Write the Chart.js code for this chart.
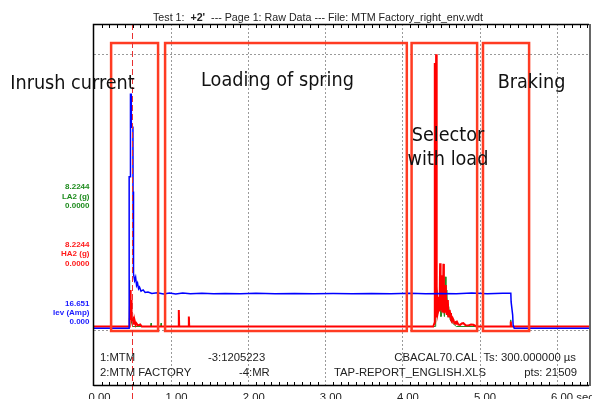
<!DOCTYPE html>
<html>
<head>
<meta charset="utf-8">
<script src="https://cdn.jsdelivr.net/npm/chart.js@4/dist/chart.umd.min.js"></script>
<style>
  body { margin: 0; background: #fff; }
  canvas { display: block; }
</style>
</head>
<body>
<canvas id="rawChart" width="592" height="399"></canvas>
<script>
// time axis (sec)
const xTicks = [0, 1, 2, 3, 4, 5, 6];
const xTickLabels = ['0.00', '1.00', '2.00', '3.00', '4.00', '5.00', '6.00 sec'];

// channel labels shown left of the plot: [top value, name, bottom value]
const channelLabels = [
  ['8.2244', 'LA2 (g)', '0.0000'],
  ['8.2244', 'HA2 (g)', '0.0000'],
  ['16.651', 'Iev (Amp)', '0.000']
];

// Iev (Amp)
const ievTime = [0, 0.455, 0.456, 0.472, 0.473, 0.483, 0.484, 0.505, 0.506, 0.512,
  0.513, 0.527, 0.54, 0.552, 0.565, 0.578, 0.59, 0.61, 0.637, 0.663,
  0.70, 0.75, 0.82, 0.90, 0.98, 1.06, 1.15, 1.25, 1.40, 1.55,
  1.70, 1.90, 2.10, 2.35, 2.60, 2.85, 3.10, 3.35, 3.60, 3.85,
  4.10, 4.30, 4.50, 4.70, 4.90, 5.10, 5.30, 5.406, 5.41, 5.43,
  5.436, 5.45, 6.42];
const iev = [0, 0, 9.2, 9.2, 14.2, 14.2, 12.2, 12.2, 8.3, 8.3,
  3.3, 2.9, 3.1, 2.6, 2.75, 2.4, 2.5, 2.26, 2.33, 2.17,
  2.2, 2.11, 2.16, 2.08, 2.14, 2.09, 2.15, 2.1, 2.13, 2.09,
  2.12, 2.1, 2.13, 2.1, 2.12, 2.1, 2.11, 2.1, 2.12, 2.1,
  2.13, 2.09, 2.12, 2.1, 2.14, 2.09, 2.13, 2.13, 1.6, 0.8,
  0.2, 0, 0];

// HA2 (g)
const ha2Time = [0, 0.455, 0.46, 0.465, 0.47, 0.475, 0.48, 0.485, 0.49, 0.50,
  0.51, 0.52, 0.53, 0.54, 0.55, 0.57, 0.60, 0.62, 1.095, 1.10,
  1.105, 1.225, 1.23, 1.235, 4.40, 4.415, 4.42, 4.425, 4.432, 4.437,
  4.442, 4.447, 4.450, 4.458, 4.467, 4.475, 4.482, 4.489, 4.495, 4.502,
  4.511, 4.517, 4.524, 4.532, 4.538, 4.545, 4.554, 4.563, 4.57, 4.576,
  4.583, 4.589, 4.597, 4.606, 4.612, 4.619, 4.63, 4.641, 4.652, 4.662,
  4.673, 4.684, 4.695, 4.706, 4.725, 4.749, 4.77, 4.79, 4.82, 4.856,
  4.89, 4.92, 4.96, 5.40, 5.405, 5.41, 6.42];
const ha2 = [0, 0, 0.25, 0.1, 1.1, 0.3, 0.8, 0.2, 0.25, 0.12,
  0.2, 0.08, 0.15, 0.05, 0.1, 0.03, 0.06, 0, 0, 0.5,
  0, 0, 0.3, 0, 0, 0.1, 7.95, 0.3, 1.0, 8.22,
  0.6, 1.2, 0.9, 0.4, 0.5, 0.9, 0.45, 1.91, 0.5, 0.6,
  1.55, 0.45, 0.5, 1.89, 0.6, 0.4, 0.9, 1.25, 0.5, 0.35,
  0.7, 0.8, 0.3, 0.3, 0.5, 0.41, 0.2, 0.15, 0.25, 0.2,
  0.1, 0.08, 0.14, 0.15, 0.06, 0.05, 0.09, 0.1, 0.04, 0.03,
  0.06, 0.05, 0, 0, 0.15, 0, 0];

// LA2 (g)
const la2Time = [0, 0.456, 0.458, 0.462, 0.466, 0.47, 0.476, 0.482, 0.49, 0.50,
  0.735, 0.74, 0.745, 0.865, 0.87, 0.875, 1.225, 1.23, 1.235, 4.425,
  4.43, 4.433, 4.437, 4.445, 4.46, 4.49, 4.50, 4.53, 4.545, 4.554,
  4.565, 4.576, 4.59, 4.6, 4.62, 4.65, 4.7, 5.40, 5.405, 5.41,
  6.42];
const la2 = [0, 0, 1.4, 1.0, 0.3, 0.5, 0.2, 0.35, 0.1, 0,
  0, 0.1, 0, 0, 0.1, 0, 0, 0.26, 0, 0,
  0.6, 1.77, 0.9, 1.1, 0.4, 0.8, 0.3, 0.6, 0.3, 1.5,
  0.5, 1.1, 0.3, 0.6, 0.2, 0.1, 0, 0, 0.2, 0,
  0];

// phase boxes (sec), vertical extent in HA2 units
const phaseNames = ['Inrush current', 'Loading of spring', 'Selector', 'Braking'];
const boxStart = [0.222, 0.922, 4.119, 5.045];
const boxEnd = [0.831, 4.057, 4.969, 5.643];
const boxTop = 8.556, boxBottom = -0.136;
const cursorTime = 0.494;
const gridLevels = [8.2244, -0.106];

const toPoints = (ts, vs) => ts.map((t, i) => ({ x: t, y: vs[i] }));

function fitText(ctx, text, family, width) {
  ctx.font = '20px ' + family;
  return 20 * width / ctx.measureText(text).width;
}

const overlay = {
  id: 'overlay',
  beforeDatasetsDraw(chart) {
    const { ctx, chartArea: a, scales: { x, yH } } = chart;
    ctx.save();
    ctx.strokeStyle = '#9a9a9a';
    ctx.lineWidth = 1;
    ctx.setLineDash([2, 2]);
    xTicks.slice(1).forEach(t => {
      const px = Math.round(x.getPixelForValue(t)) + 0.5;
      ctx.beginPath(); ctx.moveTo(px, a.top); ctx.lineTo(px, a.bottom); ctx.stroke();
    });
    gridLevels.forEach(v => {
      const py = Math.round(yH.getPixelForValue(v)) + 0.5;
      ctx.beginPath(); ctx.moveTo(a.left, py); ctx.lineTo(a.right, py); ctx.stroke();
    });
    ctx.restore();
  },
  afterDatasetsDraw(chart) {
    const { ctx, chartArea: a, scales: { x, yH } } = chart;
    ctx.save();

    // phase boxes
    ctx.strokeStyle = '#ff3b22';
    ctx.lineWidth = 2.5;
    boxStart.forEach((s, i) => {
      const x1 = x.getPixelForValue(s), x2 = x.getPixelForValue(boxEnd[i]);
      const y1 = yH.getPixelForValue(boxTop), y2 = yH.getPixelForValue(boxBottom);
      ctx.strokeRect(x1, y1, x2 - x1, y2 - y1);
    });

    // cursor
    const cx = Math.round(x.getPixelForValue(cursorTime)) + 0.5;
    ctx.strokeStyle = '#e83030';
    ctx.lineWidth = 1;
    ctx.setLineDash([6, 3]);
    ctx.beginPath(); ctx.moveTo(cx, a.top); ctx.lineTo(cx, chart.height); ctx.stroke();
    ctx.setLineDash([]);

    // frame
    ctx.strokeStyle = '#000';
    ctx.lineWidth = 1.5;
    ctx.beginPath();
    ctx.moveTo(a.left - 0.5, a.bottom); ctx.lineTo(a.left - 0.5, a.top + 0.5);
    ctx.lineTo(a.right, a.top + 0.5);
    ctx.moveTo(a.left - 0.5, a.bottom - 0.5); ctx.lineTo(a.right, a.bottom - 0.5);
    ctx.stroke();
    ctx.strokeStyle = '#666';
    ctx.lineWidth = 2;
    ctx.beginPath(); ctx.moveTo(a.right + 1, a.top); ctx.lineTo(a.right + 1, a.bottom); ctx.stroke();

    // minor ticks every 0.1 sec
    ctx.strokeStyle = '#000';
    ctx.lineWidth = 1;
    for (let k = 1; k < 65; k++) {
      if (k % 10 === 0) continue;
      const px = Math.round(x.getPixelForValue(k / 10)) + 0.5;
      ctx.beginPath();
      ctx.moveTo(px, a.top); ctx.lineTo(px, a.top + 4);
      ctx.moveTo(px, a.bottom); ctx.lineTo(px, a.bottom - 4);
      ctx.stroke();
    }

    // x tick labels
    ctx.fillStyle = '#222';
    ctx.font = '11.3px "Liberation Sans", Arial, sans-serif';
    ctx.textBaseline = 'top';
    ctx.textAlign = 'left';
    xTicks.forEach((t, i) => {
      ctx.fillText(xTickLabels[i], x.getPixelForValue(t) - 5.5, a.bottom + 6);
    });

    // title
    ctx.textBaseline = 'alphabetic';
    let tx = 153;
    const parts = [['Test 1:  ', ''], ["+2'", 'bold '], ["  --- Page 1: Raw Data --- File: MTM Factory_right_env.wdt", '']];
    parts.forEach(([s, w]) => {
      ctx.font = w + '10.7px "Liberation Sans", Arial, sans-serif';
      ctx.fillText(s, tx, 21);
      tx += ctx.measureText(s).width;
    });

    // channel labels
    const chColors = ['#1e8c1e', '#ff1a1a', '#1a1aff'];
    const chY = [[187, 196.5, 205.5], [244.5, 254, 263.5], [303.7, 312.7, 321.7]];
    ctx.font = 'bold 8px "Liberation Sans", Arial, sans-serif';
    ctx.textAlign = 'right';
    ctx.textBaseline = 'middle';
    channelLabels.forEach((lines, i) => {
      ctx.fillStyle = chColors[i];
      lines.forEach((s, j) => ctx.fillText(s, 89.5, chY[i][j]));
    });

    // footer info
    ctx.fillStyle = '#222';
    ctx.font = '11.3px "Liberation Sans", Arial, sans-serif';
    ctx.textAlign = 'left';
    ctx.textBaseline = 'alphabetic';
    ctx.fillText('1:MTM', 100, 360.5);
    ctx.fillText('-3:1205223', 208, 360.5);
    ctx.fillText('2:MTM FACTORY', 100, 375.5);
    ctx.fillText('-4:MR', 239, 375.5);
    ctx.fillText('TAP-REPORT_ENGLISH.XLS', 334, 375.5);
    ctx.textAlign = 'right';
    ctx.fillText('CBACAL70.CAL  Ts: 300.000000 µs', 576, 360.5);
    ctx.fillText('pts: 21509', 577, 375.5);

    // phase annotations
    const fam = '"DejaVu Sans Condensed", "DejaVu Sans", sans-serif';
    const size = fitText(ctx, phaseNames[1], fam, 153);
    ctx.font = size + 'px ' + fam;
    ctx.fillStyle = '#111';
    ctx.textAlign = 'center';
    ctx.fillText(phaseNames[0], 72.5, 89);
    ctx.fillText(phaseNames[1], 277.5, 86);
    ctx.fillText(phaseNames[2], 448, 140.5);
    ctx.fillText('with load', 448, 164.5);
    ctx.fillText(phaseNames[3], 531.5, 88);

    ctx.restore();
  }
};

const ctx = document.getElementById('rawChart').getContext('2d');
new Chart(ctx, {
  type: 'line',
  data: {
    datasets: [{
      label: 'Iev (Amp)',
      data: toPoints(ievTime, iev),
      yAxisID: 'yI',
      borderColor: '#0000ff',
      borderWidth: 1.5
    }, {
      label: 'HA2 (g)',
      data: toPoints(ha2Time, ha2),
      yAxisID: 'yH',
      borderColor: '#ff0000',
      borderWidth: 2
    }, {
      label: 'LA2 (g)',
      data: toPoints(la2Time, la2),
      yAxisID: 'yL',
      borderColor: '#1e8c1e',
      borderWidth: 1
    }]
  },
  options: {
    responsive: false,
    animation: false,
    layout: { padding: { left: 94, right: 3, top: 24, bottom: 13 } },
    elements: { point: { radius: 0 }, line: { tension: 0 } },
    scales: {
      x: { type: 'linear', min: 0, max: 6.42, display: false },
      yI: { min: -3.502, max: 18.471, display: false },
      yH: { min: -1.796, max: 9.13, display: false },
      yL: { min: -1.796, max: 9.13, display: false }
    },
    plugins: { legend: { display: false }, tooltip: { enabled: false } }
  },
  plugins: [overlay]
});
</script>
</body>
</html>
